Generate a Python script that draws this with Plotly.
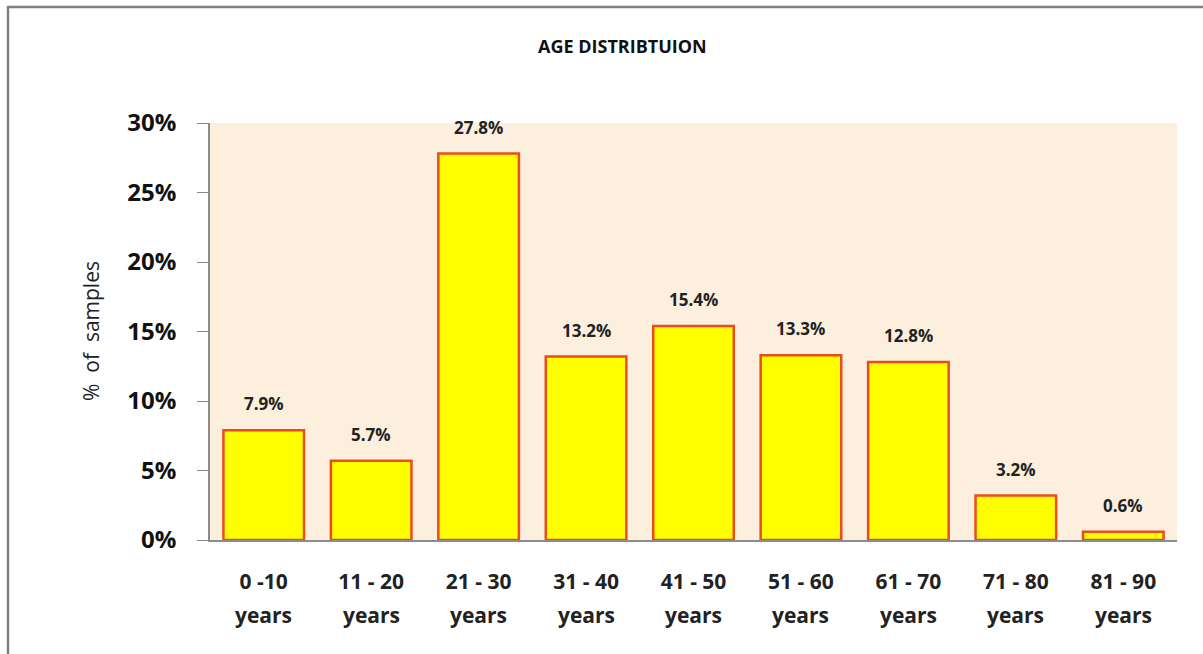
import plotly.graph_objects as go

categories = ["0 -10", "11 - 20", "21 - 30", "31 - 40", "41 - 50", "51 - 60", "61 - 70", "71 - 80", "81 - 90"]
values = [0.079, 0.057, 0.278, 0.132, 0.154, 0.133, 0.128, 0.032, 0.006]
value_labels = ["7.9%", "5.7%", "27.8%", "13.2%", "15.4%", "13.3%", "12.8%", "3.2%", "0.6%"]
second_line = ["years"] * len(categories)
y_ticks = [0, 0.05, 0.10, 0.15, 0.20, 0.25, 0.30]
y_tick_text = ["0%", "5%", "10%", "15%", "20%", "25%", "30%"]

FONT = "Open Sans"
W, H = 1203, 654
L, R, T, B = 210, 26, 123, 114
pw, ph = W - L - R, H - T - B

def px_x(px):
    return (px - L) / pw

def px_y(py):
    return (H - B - py) / ph

fig = go.Figure()
fig.add_trace(go.Bar(
    x=categories, y=values,
    marker=dict(color="#FFFF00", line=dict(color="#EE4B1C", width=2.5)),
    hoverinfo="skip",
))

annotations = []
for c, v, t in zip(categories, values, value_labels):
    annotations.append(dict(x=c, y=v, xref="x", yref="y", text=t, showarrow=False,
                            yanchor="bottom", yshift=13,
                            font=dict(family=FONT, size=17, color="#222222", weight="bold")))
for c, t in zip(categories, second_line):
    annotations.append(dict(x=c, y=px_y(615), xref="x", yref="paper", text=t, showarrow=False,
                            yanchor="middle",
                            font=dict(family=FONT, size=21, color="#222222", weight="bold")))
annotations.append(dict(x=px_x(622), y=px_y(46), xref="paper", yref="paper", text="AGE DISTRIBTUION",
                        showarrow=False, xanchor="center", yanchor="middle",
                        font=dict(family=FONT, size=18, color="#111111", weight="bold")))
annotations.append(dict(x=px_x(91), y=px_y(331), xref="paper", yref="paper", text="%  of  samples",
                        showarrow=False, textangle=-90, xanchor="center", yanchor="middle",
                        font=dict(family=FONT, size=21, color="#222222")))

fig.update_layout(
    width=W, height=H,
    margin=dict(l=L, r=R, t=T, b=B, autoexpand=False),
    paper_bgcolor="white",
    plot_bgcolor="#FCEFDD",
    bargap=0.25,
    showlegend=False,
    annotations=annotations,
    shapes=[dict(type="rect", xref="paper", yref="paper",
                 x0=px_x(8), x1=px_x(1215), y0=px_y(670), y1=px_y(7),
                 line=dict(color="#808080", width=2.5), layer="below")],
)
fig.update_xaxes(
    showline=True, linecolor="#8C8C8C", linewidth=1.5, ticks="", showgrid=False,
    tickfont=dict(family=FONT, size=21, color="#222222", weight="bold"),
    ticklabelstandoff=22,
)
fig.update_yaxes(
    range=[0, 0.30], tickvals=y_ticks, ticktext=y_tick_text,
    showline=True, linecolor="#8C8C8C", linewidth=1.5, ticks="outside", ticklen=11,
    tickcolor="#8C8C8C", showgrid=False, zeroline=False,
    tickfont=dict(family=FONT, size=24, color="#111111", weight="bold"),
    ticklabelstandoff=16,
)

fig.write_html("out.html")
